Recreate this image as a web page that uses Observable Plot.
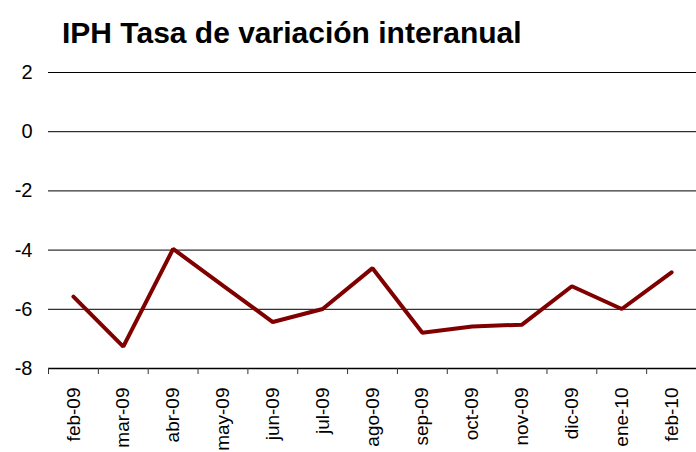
<!DOCTYPE html>
<html>
<head>
<meta charset="utf-8">
<script src="https://cdn.jsdelivr.net/npm/d3@7"></script>
<script src="https://cdn.jsdelivr.net/npm/@observablehq/plot@0.6"></script>
<style>
  body { margin: 0; background: #fff; width: 696px; height: 452px; overflow: hidden; }
  #title { font-family: "Liberation Sans", Arial, sans-serif; font-weight: bold; font-size: 30px;
           line-height: 41px; height: 43px; padding-top: 12px; padding-left: 62px; color: #000; box-sizing: content-box; white-space: nowrap; }
  #chart svg { display: block; }
</style>
</head>
<body>
<div id="title">IPH Tasa de variación interanual</div>
<div id="chart"></div>
<script>
const months = ["feb-09", "mar-09", "abr-09", "may-09", "jun-09", "jul-09", "ago-09", "sep-09", "oct-09", "nov-09", "dic-09", "ene-10", "feb-10"];
const values = [-5.57, -7.26, -3.96, -5.2, -6.43, -5.99, -4.61, -6.79, -6.58, -6.52, -5.22, -5.99, -4.75];
const yTicks = [-8, -6, -4, -2, 0, 2];

const rows = months.map((m, i) => ({month: m, value: values[i]}));
const W = 696, ML = 48, MR = 0;
const step = (W - ML - MR) / months.length;

const chart = Plot.plot({
  width: W,
  height: 397,
  marginTop: 17,
  marginBottom: 84,
  marginLeft: ML,
  marginRight: MR,
  style: {fontFamily: "'Liberation Sans', Arial, sans-serif", fontSize: "19px", color: "#000", background: "#fff", overflow: "visible"},
  x: {type: "band", domain: months, padding: 0, round: false, label: null},
  y: {domain: [-8, 2], label: null},
  marks: [
    Plot.gridY(yTicks, {stroke: "#000", strokeOpacity: 1, strokeWidth: 1}),
    Plot.axisY(yTicks, {tickSize: 0, tickPadding: 16, fontSize: 20, tickFormat: d => String(d), label: null}),
    Plot.ruleY([-8], {stroke: "#000", strokeWidth: 1.5}),
    Plot.axisX({tickSize: 6, text: null, dx: -step / 2, label: null, stroke: "#333"}),
    Plot.axisX({tickSize: 0, tickRotate: -90, tickPadding: 19, fontSize: 19, label: null}),
    Plot.line(rows, {x: "month", y: "value", stroke: "#800000", strokeWidth: 4, strokeLinejoin: "miter"})
  ]
});
document.getElementById("chart").appendChild(chart);
</script>
</body>
</html>
